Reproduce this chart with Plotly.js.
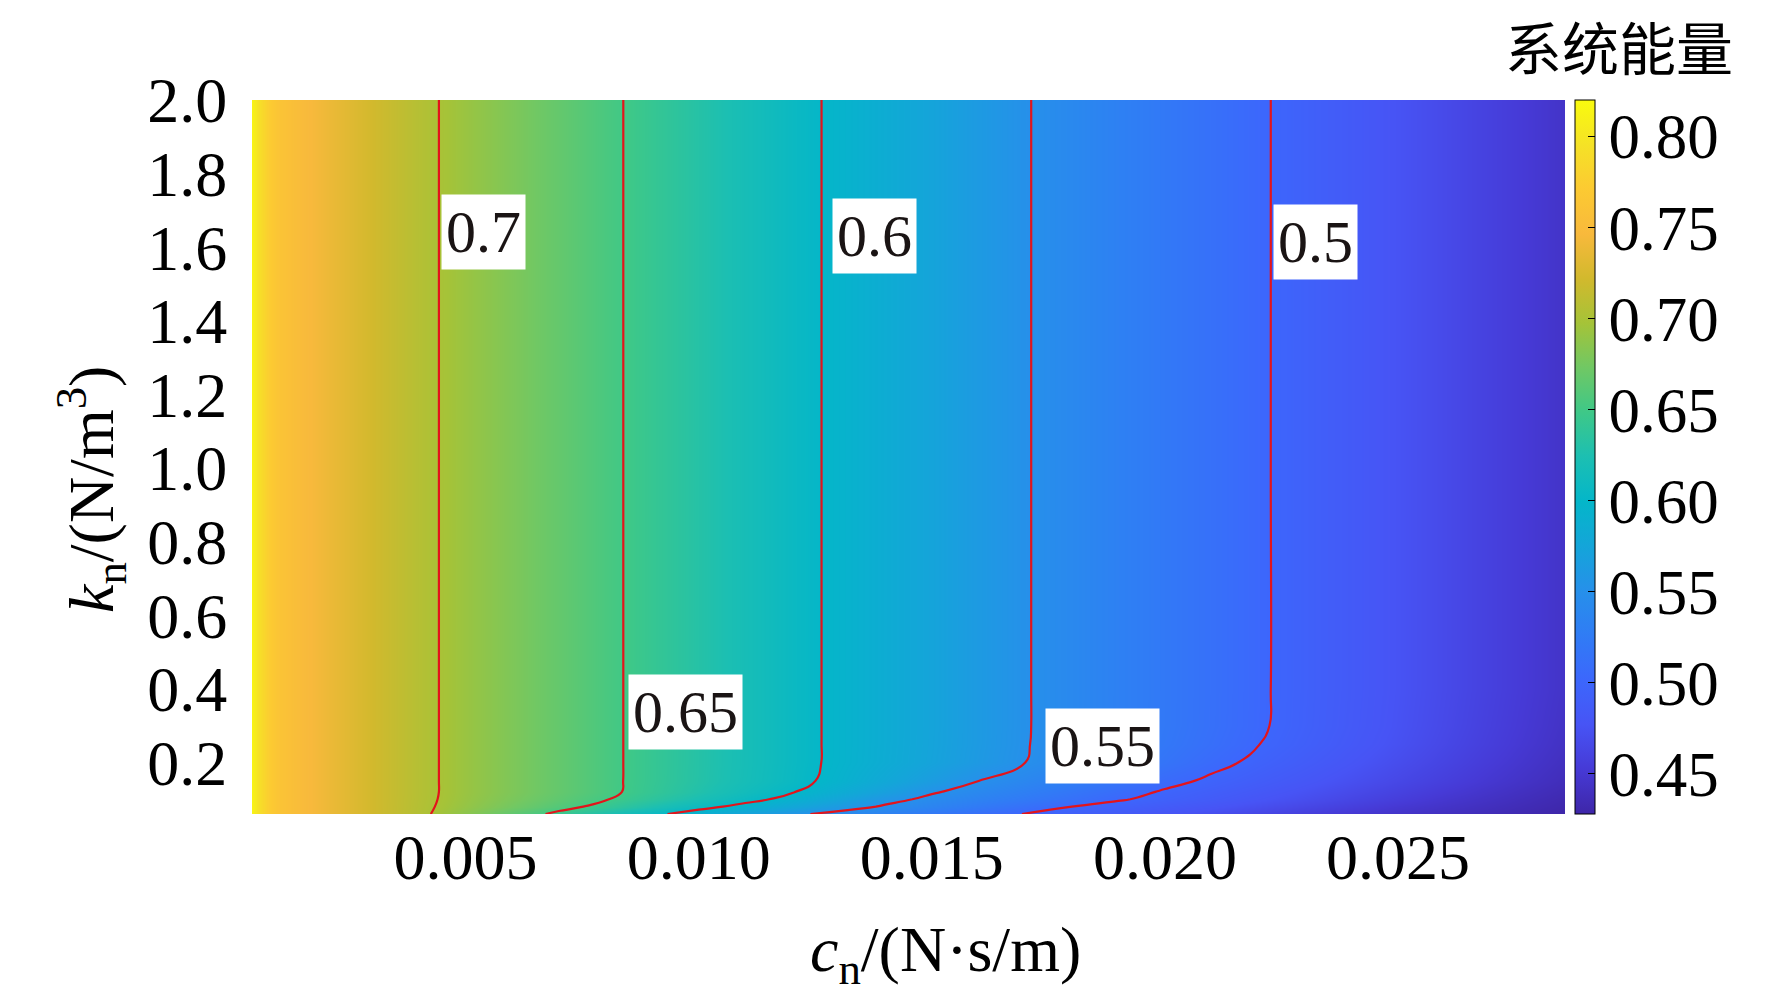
<!DOCTYPE html>
<html>
<head>
<meta charset="utf-8">
<script src="https://cdn.plot.ly/plotly-3.0.1.min.js"></script>
<style>
  html, body { margin: 0; padding: 0; background: #ffffff; }
  #chart { width: 1772px; height: 1004px; }
</style>
</head>
<body>
<div id="chart"></div>
<script>
// c_n (N·s/m) sample columns
const cnValues = [
  0.0004, 0.0006, 0.0008, 0.0010, 0.0015, 0.0020, 0.0030,
  0.004, 0.005, 0.006, 0.007, 0.008, 0.009, 0.010, 0.011, 0.012,
  0.013, 0.014, 0.015, 0.016, 0.017, 0.018, 0.019, 0.020, 0.021,
  0.022, 0.023, 0.024, 0.025, 0.026, 0.027, 0.028, 0.0286,
];

// k_n (N/m^3) sample rows, bottom to top
const knValues = [0.06, 0.08, 0.10, 0.12, 0.15, 0.20, 0.25, 0.30, 0.40, 1.0, 2.0];

// 系统能量, one row per k_n value
const energyKn006 = [0.815, 0.790, 0.772, 0.762, 0.750, 0.740, 0.722,
  0.705, 0.6854, 0.6646, 0.6442, 0.6250, 0.6058, 0.5883, 0.5717, 0.5550, 0.5424,
  0.5315, 0.5207, 0.5098, 0.4993, 0.4923, 0.4852, 0.4782, 0.4711, 0.4641, 0.4570,
  0.4500, 0.4452, 0.4404, 0.4357, 0.4309, 0.4280];
const energyKn008 = [0.815, 0.790, 0.772, 0.762, 0.750, 0.740, 0.722,
  0.7054, 0.6896, 0.6741, 0.6585, 0.6423, 0.6253, 0.6083, 0.5922, 0.5768, 0.5615,
  0.5471, 0.5353, 0.5235, 0.5118, 0.5001, 0.4929, 0.4857, 0.4786, 0.4714, 0.4643,
  0.4571, 0.4500, 0.4444, 0.4389, 0.4333, 0.4300];
const energyKn010 = [0.815, 0.790, 0.772, 0.762, 0.750, 0.740, 0.722,
  0.7058, 0.6913, 0.6780, 0.6647, 0.6513, 0.6370, 0.6225, 0.6080, 0.5923, 0.5751,
  0.5579, 0.5443, 0.5338, 0.5232, 0.5127, 0.5021, 0.4939, 0.4864, 0.4788, 0.4712,
  0.4636, 0.4561, 0.4487, 0.4423, 0.4359, 0.4320];
const energyKn012 = [0.815, 0.790, 0.772, 0.762, 0.750, 0.740, 0.722,
  0.706, 0.692, 0.6796, 0.6671, 0.6546, 0.6416, 0.6282, 0.6147, 0.6013, 0.5852,
  0.5689, 0.5525, 0.5407, 0.5298, 0.5189, 0.5080, 0.4979, 0.4903, 0.4827, 0.4751,
  0.4675, 0.4599, 0.4523, 0.4451, 0.4382, 0.4340];
const energyKn015 = [0.815, 0.790, 0.772, 0.762, 0.750, 0.740, 0.722,
  0.706, 0.692, 0.6796, 0.6671, 0.6546, 0.6425, 0.6305, 0.6185, 0.6066, 0.5935,
  0.5790, 0.5645, 0.5501, 0.5390, 0.5280, 0.5170, 0.5060, 0.4965, 0.4886, 0.4807,
  0.4728, 0.4650, 0.4571, 0.4492, 0.4416, 0.4370];
const energyKn020 = [0.815, 0.790, 0.772, 0.762, 0.750, 0.740, 0.722,
  0.706, 0.692, 0.6796, 0.6671, 0.6546, 0.6426, 0.6308, 0.6191, 0.6073, 0.5957,
  0.5842, 0.5728, 0.5614, 0.5501, 0.5389, 0.5278, 0.5167, 0.5056, 0.4958, 0.4873,
  0.4788, 0.4703, 0.4619, 0.4534, 0.4450, 0.4400];
const energyKn025 = [0.815, 0.790, 0.772, 0.762, 0.750, 0.740, 0.722,
  0.706, 0.692, 0.6796, 0.6671, 0.6546, 0.6426, 0.6308, 0.6191, 0.6073, 0.5958,
  0.5846, 0.5734, 0.5623, 0.5511, 0.5409, 0.5308, 0.5206, 0.5105, 0.5004, 0.4915,
  0.4827, 0.4739, 0.4650, 0.4562, 0.4474, 0.4421];
const energyKn030 = [0.815, 0.790, 0.772, 0.762, 0.750, 0.740, 0.722,
  0.706, 0.692, 0.6796, 0.6671, 0.6546, 0.6426, 0.6308, 0.6191, 0.6073, 0.5958,
  0.5847, 0.5736, 0.5624, 0.5513, 0.5414, 0.5316, 0.5218, 0.5120, 0.5022, 0.4931,
  0.4842, 0.4753, 0.4664, 0.4575, 0.4487, 0.4433];
const energyKnTop = [0.815, 0.790, 0.772, 0.762, 0.750, 0.740, 0.722,
  0.706, 0.692, 0.6796, 0.6671, 0.6546, 0.6426, 0.6308, 0.6191, 0.6073, 0.5958,
  0.5847, 0.5736, 0.5624, 0.5513, 0.5414, 0.5317, 0.5219, 0.5122, 0.5024, 0.4935,
  0.4848, 0.4761, 0.4674, 0.4587, 0.4500, 0.4448];

const contourLabels = ["0.7", "0.6", "0.5", "0.65", "0.55"];
const xTicks = [0.005, 0.010, 0.015, 0.020, 0.025];
const yTicks = [0.2, 0.4, 0.6, 0.8, 1.0, 1.2, 1.4, 1.6, 1.8, 2.0];
const colorTicks = [0.45, 0.50, 0.55, 0.60, 0.65, 0.70, 0.75, 0.80];

const energy = [
  energyKn006, energyKn008, energyKn010, energyKn012, energyKn015,
  energyKn020, energyKn025, energyKn030, energyKnTop, energyKnTop, energyKnTop,
];

const THEME = {
  ink: "#000000",
  line: "#e3141b",
  serif: "\"Liberation Serif\", \"Times New Roman\", \"DejaVu Serif\", serif",
  cjk: "\"Noto Sans CJK SC\", \"Noto Sans CJK JP\", sans-serif",
};

// MATLAB parula (R2014b look)
const PARULA = [
  [0.0, "rgb(62,38,168)"],
  [0.0625, "rgb(70,58,214)"],
  [0.125, "rgb(71,84,245)"],
  [0.1875, "rgb(60,103,252)"],
  [0.25, "rgb(48,124,245)"],
  [0.3125, "rgb(38,144,234)"],
  [0.375, "rgb(20,165,217)"],
  [0.4375, "rgb(4,182,201)"],
  [0.5, "rgb(28,191,178)"],
  [0.5625, "rgb(62,200,136)"],
  [0.625, "rgb(112,200,100)"],
  [0.6875, "rgb(165,195,56)"],
  [0.75, "rgb(210,185,45)"],
  [0.8125, "rgb(248,185,60)"],
  [0.875, "rgb(252,202,50)"],
  [0.9375, "rgb(245,226,38)"],
  [1.0, "rgb(249,251,14)"],
];

const Z_MIN = 0.428;
const Z_MAX = 0.82;

const heat = {
  type: "heatmap",
  x: cnValues,
  y: knValues,
  z: energy,
  zsmooth: "best",
  colorscale: PARULA,
  zmin: Z_MIN,
  zmax: Z_MAX,
  hoverinfo: "skip",
  colorbar: {
    x: 1.0076,
    xanchor: "left",
    xpad: 0,
    y: 0.5,
    yanchor: "middle",
    len: 1,
    lenmode: "fraction",
    ypad: 0,
    thickness: 20,
    outlinewidth: 1,
    outlinecolor: "#000000",
    tickmode: "array",
    tickvals: colorTicks,
    ticktext: colorTicks.map((v) => v.toFixed(2)),
    ticks: "inside",
    ticklen: 7,
    tickwidth: 1,
    tickcolor: "#000000",
    tickfont: { family: THEME.serif, size: 63, color: THEME.ink },
  },
};

const lines = {
  type: "contour",
  x: cnValues,
  y: knValues,
  z: energy,
  showscale: false,
  hoverinfo: "skip",
  autocontour: false,
  contours: { coloring: "none", start: 0.5, end: 0.7001, size: 0.05 },
  line: { color: THEME.line, width: 2.2, smoothing: 1.3 },
};

// where the level labels sit (data coordinates)
const labelSpots = [
  [0.005386, 1.641],
  [0.013777, 1.630],
  [0.023219, 1.614],
  [0.009721, 0.336],
  [0.018670, 0.244],
];

const annotations = contourLabels.map((text, i) => ({
  x: labelSpots[i][0],
  y: labelSpots[i][1],
  xref: "x",
  yref: "y",
  text,
  showarrow: false,
  bgcolor: "#ffffff",
  borderpad: 4,
  font: { family: THEME.serif, size: 60, color: "#1a1414" },
}));

annotations.push(
  {
    xref: "paper", yref: "paper", x: 0.5278, y: -0.196,
    xanchor: "center", yanchor: "middle", showarrow: false,
    text: "<i>c</i><sub>n</sub>/(N·s/m)",
    font: { family: THEME.serif, size: 64, color: THEME.ink },
  },
  {
    xref: "paper", yref: "paper", x: -0.1226, y: 0.4538,
    xanchor: "center", yanchor: "middle", showarrow: false, textangle: -90,
    text: "<i>k</i><sub>n</sub>/(N/m<sup>3</sup>)",
    font: { family: THEME.serif, size: 64, color: THEME.ink },
  },
  {
    xref: "paper", yref: "paper", x: 1.1287, y: 1.136,
    xanchor: "right", yanchor: "top", showarrow: false, borderpad: 0,
    text: "系统能量",
    font: { family: THEME.cjk, size: 57, color: THEME.ink },
  }
);

const layout = {
  width: 1772,
  height: 1004,
  paper_bgcolor: "#ffffff",
  plot_bgcolor: "#ffffff",
  showlegend: false,
  margin: { l: 252, r: 207, t: 100, b: 190 },
  font: { family: THEME.serif, color: THEME.ink },
  xaxis: {
    range: [0.00042, 0.02858],
    tickmode: "array",
    tickvals: xTicks,
    ticktext: xTicks.map((v) => v.toFixed(3)),
    ticks: "",
    showgrid: false,
    zeroline: false,
    showline: false,
    tickfont: { family: THEME.serif, size: 64, color: THEME.ink },
  },
  yaxis: {
    range: [0.06, 2.0],
    tickmode: "array",
    tickvals: yTicks,
    ticktext: yTicks.map((v) => v.toFixed(1)),
    ticks: "outside",
    ticklen: 11,
    tickcolor: "rgba(0,0,0,0)",
    showgrid: false,
    zeroline: false,
    showline: false,
    tickfont: { family: THEME.serif, size: 64, color: THEME.ink },
  },
  annotations,
};

Plotly.newPlot("chart", [heat, lines], layout, { displayModeBar: false, staticPlot: true });
</script>
</body>
</html>
